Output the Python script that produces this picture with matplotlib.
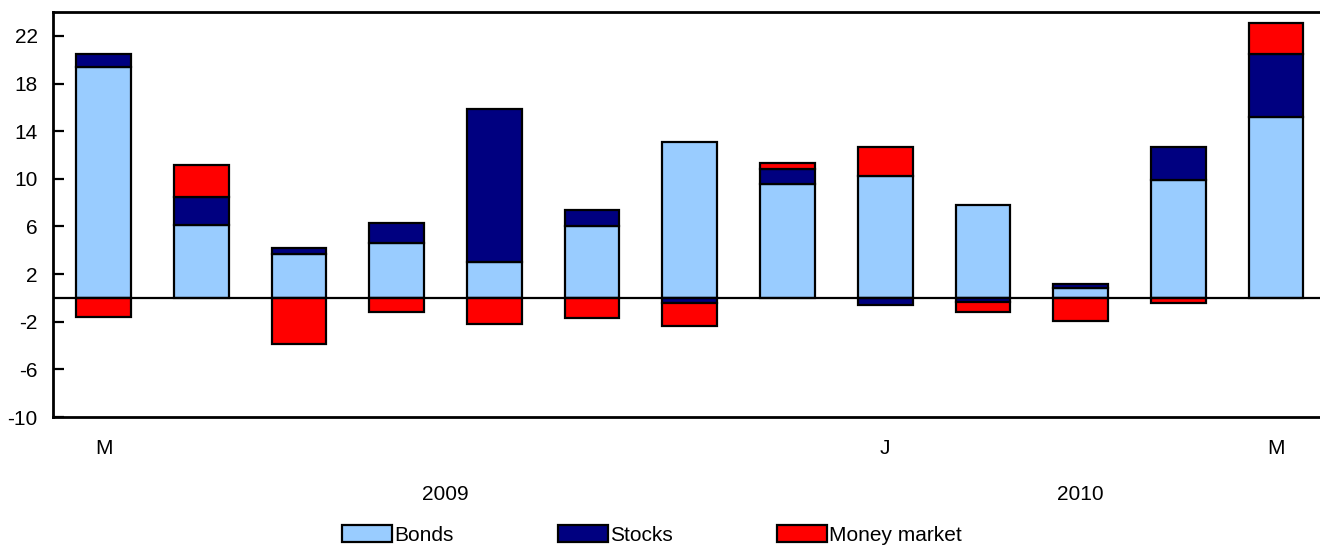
import numpy as np
import matplotlib
matplotlib.use("Agg")
import matplotlib.pyplot as plt
from matplotlib.patches import Patch

plt.rcParams['font.family'] = ['Liberation Sans', 'DejaVu Sans']
plt.rcParams['axes.unicode_minus'] = False

months = ['M', '', '', '', '', '', '', '', 'J', '', '', '', 'M']
years = ['2009', '2010']
year_centres = [3.5, 10]

bonds = [19.4, 6.1, 3.7, 4.6, 3.0, 6.0, 13.05, 9.55, 10.25, 7.8, 0.85, 9.9, 15.15]
stocks = [1.1, 2.4, 0.5, 1.7, 12.9, 1.4, -0.45, 1.25, -0.55, -0.3, 0.3, 2.8, 5.3]
money = [-1.6, 2.7, -3.85, -1.15, -2.2, -1.65, -1.9, 0.55, 2.45, -0.85, -1.9, -0.45, 2.6]

colours = {'Bonds': '#99ccff', 'Stocks': '#000080', 'Money market': '#ff0000'}

fig = plt.figure(figsize=(13.2, 5.46), dpi=100)
ax = fig.add_axes([0.040, 0.236, 0.96, 0.742])

x = np.arange(len(bonds))
pos_base = np.zeros(len(x))
neg_base = np.zeros(len(x))
for name, vals in [('Bonds', bonds), ('Stocks', stocks), ('Money market', money)]:
    vals = np.array(vals)
    bottoms = np.where(vals >= 0, pos_base, neg_base)
    ax.bar(x, vals, width=0.56, bottom=bottoms, color=colours[name],
           edgecolor='black', linewidth=1.6, zorder=2)
    pos_base += np.where(vals >= 0, vals, 0)
    neg_base += np.where(vals < 0, vals, 0)

ax.axhline(0, color='black', linewidth=1.6, zorder=3)

ax.set_ylim(-10, 24)
ax.set_xlim(-0.52, 12.45)
ax.set_yticks(range(-10, 23, 4))
ax.tick_params(axis='y', direction='in', length=8, width=1.6, labelsize=15, pad=11)
ax.set_xticks(x)
ax.set_xticklabels(months, fontsize=15)
ax.tick_params(axis='x', length=0, pad=16)
for side in ['left', 'top', 'bottom']:
    ax.spines[side].set_linewidth(2)
ax.spines['right'].set_visible(False)

for yr, c in zip(years, year_centres):
    ax.text(c, -0.19, yr, transform=ax.get_xaxis_transform(), ha='center',
            va='center', fontsize=15)

handles = [Patch(facecolor=colours[n], edgecolor='black', linewidth=1.6) for n in colours]
fig.legend(handles, list(colours), loc='lower center', ncol=3, frameon=False,
           fontsize=15, handlelength=2.4, handleheight=0.9, handletextpad=0.1,
           columnspacing=5.0, bbox_to_anchor=(0.494, -0.032))

fig.savefig('out.png', dpi=100)
